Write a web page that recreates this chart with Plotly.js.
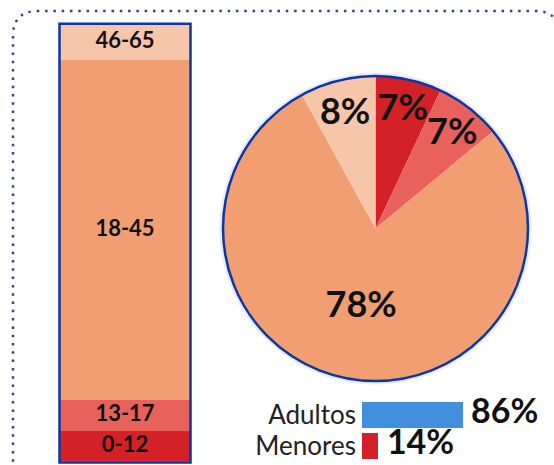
<!DOCTYPE html>
<html><head><meta charset="utf-8">
<script src="https://cdn.plot.ly/plotly-3.0.1.min.js"></script>
<style>html,body{margin:0;padding:0;background:#fff}#chart{width:554px;height:465px}</style>
</head><body><div id="chart"></div>
<script>
// ---- data ----
const ageGroups = ['0-12', '13-17', '18-45', '46-65'];
const agePct = [7, 7, 78, 8];
const groupLabels = ['Menores', 'Adultos'];
const groupPct = [14, 86];

// ---- styles ----
const ageColors = ['#d42027', '#e8615b', '#f19e73', '#f7c5aa'];
const groupColors = ['#d42027', '#418fdd'];
const W = 554, H = 465;
const X = p => p / W, Y = p => 1 - p / H;

const traces = [];
// stacked bar
ageGroups.forEach((g, i) => {
  traces.push({type: 'bar', x: [0], y: [agePct[i]], width: 1, name: g,
    marker: {color: ageColors[i], line: {width: 0}}, xaxis: 'x', yaxis: 'y', hoverinfo: 'skip'});
});
// stacked bar labels at segment centres
let cum = 0;
const mids = agePct.map(v => { const m = cum + v / 2; cum += v; return m; });
traces.push({type: 'scatter', mode: 'text', x: ageGroups.map(() => 0), y: mids, text: ageGroups,
  textfont: {family: 'Lato', size: 22, color: '#111', weight: 700}, cliponaxis: false,
  xaxis: 'x', yaxis: 'y', hoverinfo: 'skip'});
// pie
traces.push({type: 'pie', values: agePct, labels: ageGroups, sort: false, direction: 'clockwise', rotation: 0,
  marker: {colors: ageColors, line: {width: 0}}, text: agePct.map(v => v + '%'), textinfo: 'text',
  textposition: 'inside', insidetextorientation: 'horizontal',
  textfont: {family: 'Lato', size: 36, color: '#111', weight: 700},
  domain: {x: [X(223), X(528)], y: [Y(381), Y(76)]}, hoverinfo: 'skip'});
// horizontal bars
traces.push({type: 'bar', orientation: 'h', x: groupPct, y: groupLabels, width: 0.84,
  marker: {color: groupColors, line: {width: 0}}, xaxis: 'x2', yaxis: 'y2', hoverinfo: 'skip'});
traces.push({type: 'scatter', mode: 'markers+text', x: groupPct, y: groupLabels, text: groupPct.map(v => v + '%'),
  textposition: 'middle right', cliponaxis: false, marker: {size: 12, opacity: 0},
  textfont: {family: 'Lato', size: 34, color: '#111', weight: 700}, xaxis: 'x2', yaxis: 'y2', hoverinfo: 'skip'});

const dotted = `M ${X(13)},${Y(470)} L ${X(13)},${Y(36)} Q ${X(13)},${Y(11)} ${X(38)},${Y(11)} L ${X(535)},${Y(11)} Q ${X(560)},${Y(11)} ${X(560)},${Y(36)} L ${X(560)},${Y(470)}`;

const layout = {
  width: W, height: H, margin: {l: 0, r: 0, t: 0, b: 0},
  paper_bgcolor: '#fff', plot_bgcolor: 'rgba(0,0,0,0)', showlegend: false,
  barmode: 'stack',
  uniformtext: {mode: 'show', minsize: 36},
  xaxis: {domain: [X(59.5), X(190.5)], range: [-0.5, 0.5], visible: false, fixedrange: true},
  yaxis: {domain: [Y(461.5), Y(25)], range: [0, 100], visible: false, fixedrange: true},
  xaxis2: {domain: [X(362), X(479)], range: [0, 100], visible: false, anchor: 'y2'},
  yaxis2: {domain: [Y(461.3), Y(399.2)], range: [-0.5, 1.5], anchor: 'x2', type: 'category',
    tickmode: 'array', tickvals: groupLabels, ticktext: groupLabels,
    showgrid: false, zeroline: false, showline: false, ticks: '', ticklabelstandoff: 5,
    tickfont: {family: 'Lato', size: 26, color: '#222', weight: 400}},
  shapes: [
    {type: 'path', xref: 'paper', yref: 'paper', path: dotted,
      line: {color: '#2e4494', width: 2.5, dash: '2.5px,5.8px'}},
    {type: 'rect', xref: 'paper', yref: 'paper', x0: X(59.5), x1: X(190.5), y0: Y(462.5), y1: Y(23.8),
      line: {color: '#0b36a3', width: 2.5}},
    {type: 'circle', xref: 'paper', yref: 'paper', x0: X(221), x1: X(530), y0: Y(383), y1: Y(74),
      line: {color: 'rgba(190,195,230,0.35)', width: 3}},
    {type: 'circle', xref: 'paper', yref: 'paper', x0: X(223), x1: X(528), y0: Y(381), y1: Y(76),
      line: {color: '#0b36a3', width: 2.5}}
  ]
};
Plotly.newPlot('chart', traces, layout, {staticPlot: true, displayModeBar: false});
</script></body></html>
